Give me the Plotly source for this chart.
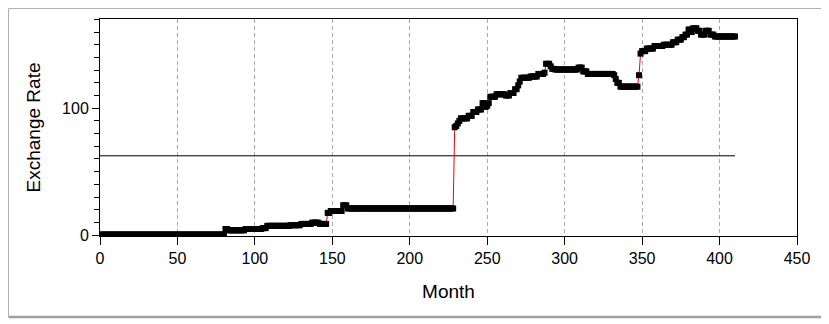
import plotly.graph_objects as go

# Exchange rate, stored as run lengths (months) and levels
rate_runs = [81, 2, 11, 11, 3, 15, 7, 7, 5, 5, 2, 8, 3, 69,
             1, 1, 1, 1, 5, 3, 3, 3, 2, 1, 1, 1, 1, 3, 6, 3, 3, 2, 1, 1, 6, 5, 4, 1, 3, 1, 2,
             15, 3, 3, 17, 1, 1, 2, 12, 1, 1, 3, 5, 6, 6, 3, 3, 2, 2, 2, 1, 3, 2, 3, 3, 3, 14]
rate_levels = [0.4, 4.8, 3.8, 4.8, 5.5, 7.3, 7.8, 8.8, 9.8, 8.8, 17.5, 19.0, 23.5, 21.0,
               85, 86, 88, 90, 92, 94, 97, 99, 104, 101, 102, 104, 109, 109, 111, 110, 112, 115, 118, 121, 124, 125, 127, 128, 135, 133, 131,
               130.5, 132, 129, 127, 126, 123, 120, 117, 126, 143, 145, 147, 149, 150, 152, 154, 156, 158, 162, 160, 163, 161, 158, 161, 158, 156.5]
mean_rate = 62.5

months = []
rates = []
m = 0
for n, v in zip(rate_runs, rate_levels):
    for _ in range(n):
        months.append(m)
        rates.append(v)
        m += 1

x_ticks = [0, 50, 100, 150, 200, 250, 300, 350, 400, 450]

FONT = "Liberation Sans, Arial, sans-serif"

fig = go.Figure()
fig.add_trace(go.Scatter(
    x=[months[0], months[-1]], y=[mean_rate, mean_rate], mode="lines",
    line=dict(color="black", width=1), hoverinfo="skip", showlegend=False))
fig.add_trace(go.Scatter(
    x=months, y=rates, mode="lines+markers",
    line=dict(color="#ff0000", width=1),
    marker=dict(symbol="square", size=6, color="black", line=dict(width=0)),
    showlegend=False))

# page has an 8px body margin: work in page pixels, then convert
OFF = 8
W, H = 829 - OFF, 324 - OFF
L, T = 100 - OFF, 19 - OFF
pw, ph = 697, 217
R = W - L - pw
B = H - T - ph

def px(xp):
    return (xp - OFF - L) / pw

def py(yp):
    return (T + ph - (yp - OFF)) / ph

fig.add_shape(type="rect", xref="paper", yref="paper",
              x0=px(8.5), x1=px(822.5), y0=py(316.5), y1=py(8.5),
              line=dict(color="#b0b0b0", width=1))
fig.add_shape(type="line", xref="paper", yref="paper",
              x0=px(8.5), x1=px(823), y0=py(317), y1=py(317),
              line=dict(color="#a0a0a0", width=2.5))

fig.update_layout(
    width=W, height=H,
    margin=dict(l=L, r=R, t=T, b=B, pad=0),
    paper_bgcolor="white", plot_bgcolor="white",
    font=dict(family=FONT, size=16, color="black"),
    xaxis=dict(
        range=[0, 450], tickvals=x_ticks, ticktext=[str(t) for t in x_ticks],
        ticks="outside", ticklen=8, tickcolor="black", tickwidth=1,
        showline=True, linecolor="black", linewidth=1, mirror=True,
        showgrid=True, gridcolor="#aaaaaa", gridwidth=1, griddash="4px,3px",
        zeroline=False, title=dict(text="Month", standoff=18),
        tickfont=dict(size=16)),
    yaxis=dict(
        range=[-0.7, 170.3], tickvals=[0, 100], ticktext=["0", "100"],
        ticks="outside", ticklen=7, tickcolor="black", tickwidth=1,
        minor=dict(dtick=10, tick0=0, ticks="outside", ticklen=5, tickcolor="black", showgrid=False),
        showline=True, linecolor="black", linewidth=1, mirror=True,
        showgrid=False, zeroline=False,
        title=dict(text="Exchange Rate", standoff=16),
        tickfont=dict(size=16)),
)

fig.write_html("out.html")
